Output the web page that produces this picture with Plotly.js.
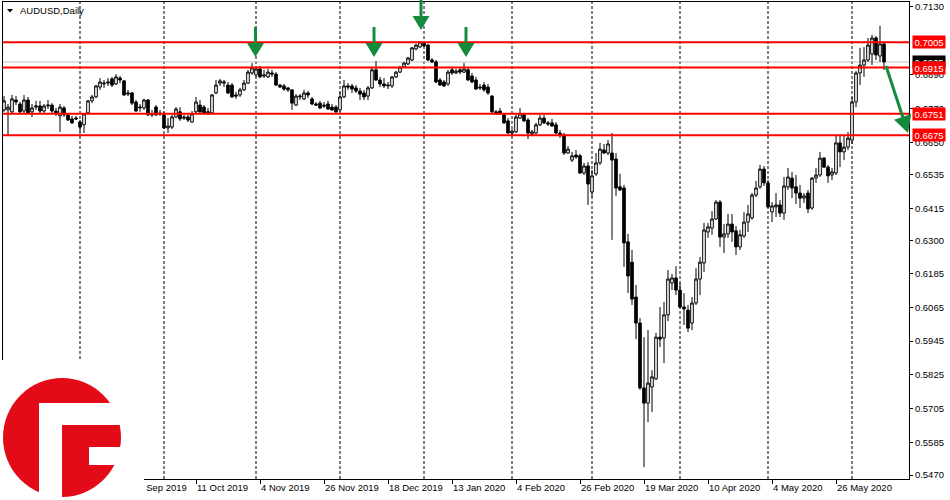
<!DOCTYPE html>
<html><head><meta charset="utf-8">
<script src="https://cdn.plot.ly/plotly-3.0.1.min.js"></script>
<style>html,body{margin:0;padding:0;background:#fff}#chart{width:950px;height:500px}</style>
</head><body><div id="chart"></div>
<script>
const symbolTitle = 'AUDUSD,Daily';
const firstDay = '2019-08-06';
const holidays = ['2019-12-25', '2020-01-01'];

const open = [
0.6765,0.6765,0.6758,0.6800,0.6786,0.6761,0.6800,0.6758,0.6775,0.6779,
0.6761,0.6779,0.6782,0.6761,0.6744,0.6772,0.6747,0.6733,0.6736,0.6722,
0.6712,0.6754,0.6797,0.6811,0.6846,0.6857,0.6860,0.6875,0.6857,0.6878,
0.6868,0.6821,0.6825,0.6793,0.6772,0.6772,0.6800,0.6747,0.6775,0.6754,
0.6747,0.6701,0.6704,0.6740,0.6758,0.6740,0.6740,0.6722,0.6758,0.6782,
0.6775,0.6754,0.6754,0.6825,0.6860,0.6860,0.6853,0.6853,0.6818,0.6818,
0.6836,0.6860,0.6896,0.6889,0.6910,0.6885,0.6882,0.6896,0.6892,0.6853,
0.6850,0.6843,0.6836,0.6782,0.6811,0.6804,0.6825,0.6804,0.6786,0.6789,
0.6782,0.6786,0.6775,0.6775,0.6765,0.6811,0.6850,0.6850,0.6843,0.6832,
0.6825,0.6814,0.6843,0.6907,0.6871,0.6857,0.6850,0.6850,0.6882,0.6899,
0.6917,0.6928,0.6942,0.6981,0.6988,0.7002,0.6995,0.6942,0.6935,0.6871,
0.6864,0.6857,0.6907,0.6896,0.6907,0.6899,0.6907,0.6885,0.6871,0.6846,
0.6853,0.6846,0.6814,0.6758,0.6761,0.6747,0.6726,0.6683,0.6687,0.6736,
0.6747,0.6729,0.6680,0.6683,0.6712,0.6736,0.6719,0.6719,0.6712,0.6683,
0.6676,0.6612,0.6587,0.6605,0.6602,0.6541,0.6566,0.6474,0.6538,0.6577,
0.6623,0.6612,0.6612,0.6591,0.6492,0.6488,0.6297,0.6225,0.6101,0.6009,
0.5779,0.5725,0.5782,0.5811,0.5959,0.5956,0.6038,0.6151,0.6169,0.6126,
0.6066,0.6055,0.6009,0.6080,0.6165,0.6222,0.6332,0.6346,0.6378,0.6438,
0.6314,0.6325,0.6360,0.6336,0.6279,0.6318,0.6367,0.6382,0.6463,0.6492,
0.6555,0.6506,0.6403,0.6421,0.6428,0.6399,0.6492,0.6523,0.6492,0.6470,
0.6452,0.6470,0.6417,0.6523,0.6534,0.6594,0.6562,0.6534,0.6541,0.6648,
0.6616,0.6633,0.6658,0.6793,0.6896,0.6924,0.6942,0.6963,0.7020,0.6956,
0.6999];

const high = [
0.6814,0.6786,0.6818,0.6814,0.6793,0.6818,0.6811,0.6786,0.6797,0.6797,
0.6786,0.6800,0.6789,0.6772,0.6786,0.6779,0.6754,0.6744,0.6744,0.6729,
0.6754,0.6800,0.6818,0.6853,0.6878,0.6871,0.6878,0.6882,0.6892,0.6885,
0.6871,0.6836,0.6829,0.6800,0.6786,0.6804,0.6804,0.6765,0.6782,0.6765,
0.6758,0.6736,0.6747,0.6775,0.6775,0.6747,0.6747,0.6761,0.6811,0.6800,
0.6782,0.6772,0.6821,0.6871,0.6875,0.6871,0.6864,0.6860,0.6829,0.6843,
0.6871,0.6907,0.6931,0.6917,0.6921,0.6907,0.6910,0.6907,0.6899,0.6857,
0.6857,0.6846,0.6839,0.6821,0.6821,0.6836,0.6832,0.6811,0.6793,0.6797,
0.6793,0.6797,0.6786,0.6782,0.6829,0.6871,0.6860,0.6857,0.6853,0.6843,
0.6836,0.6850,0.6914,0.6938,0.6882,0.6878,0.6864,0.6885,0.6903,0.6921,
0.6935,0.6953,0.6988,0.6999,0.7009,0.7006,0.6999,0.6949,0.6942,0.6878,
0.6871,0.6907,0.6914,0.6910,0.6914,0.6931,0.6914,0.6896,0.6882,0.6857,
0.6864,0.6857,0.6818,0.6765,0.6772,0.6754,0.6736,0.6697,0.6747,0.6772,
0.6754,0.6736,0.6694,0.6719,0.6747,0.6747,0.6726,0.6733,0.6722,0.6694,
0.6683,0.6637,0.6616,0.6623,0.6609,0.6577,0.6580,0.6552,0.6612,0.6648,
0.6644,0.6658,0.6683,0.6612,0.6538,0.6499,0.6325,0.6268,0.6144,0.6027,
0.5959,0.5984,0.5842,0.5974,0.6066,0.6084,0.6197,0.6183,0.6211,0.6151,
0.6115,0.6073,0.6101,0.6204,0.6243,0.6364,0.6364,0.6406,0.6445,0.6445,
0.6360,0.6396,0.6396,0.6353,0.6339,0.6403,0.6428,0.6470,0.6513,0.6570,
0.6566,0.6516,0.6438,0.6470,0.6445,0.6527,0.6559,0.6545,0.6534,0.6499,
0.6470,0.6481,0.6527,0.6559,0.6616,0.6598,0.6570,0.6559,0.6676,0.6676,
0.6676,0.6687,0.6811,0.6903,0.6985,0.6988,0.7020,0.7031,0.7027,0.7063,
0.7006];

const low = [
0.6758,0.6676,0.6754,0.6782,0.6751,0.6754,0.6751,0.6740,0.6765,0.6754,
0.6754,0.6768,0.6754,0.6744,0.6687,0.6740,0.6726,0.6715,0.6729,0.6687,
0.6683,0.6751,0.6789,0.6807,0.6836,0.6843,0.6850,0.6846,0.6853,0.6860,
0.6814,0.6814,0.6782,0.6758,0.6758,0.6765,0.6744,0.6740,0.6744,0.6744,
0.6697,0.6683,0.6697,0.6736,0.6726,0.6729,0.6722,0.6719,0.6754,0.6751,
0.6751,0.6747,0.6751,0.6821,0.6850,0.6846,0.6821,0.6807,0.6804,0.6811,
0.6832,0.6857,0.6889,0.6882,0.6878,0.6878,0.6878,0.6882,0.6850,0.6843,
0.6832,0.6829,0.6765,0.6779,0.6800,0.6800,0.6807,0.6782,0.6779,0.6768,
0.6772,0.6765,0.6761,0.6754,0.6758,0.6807,0.6836,0.6825,0.6825,0.6800,
0.6800,0.6800,0.6839,0.6868,0.6846,0.6843,0.6839,0.6843,0.6878,0.6896,
0.6914,0.6924,0.6938,0.6977,0.6985,0.6988,0.6938,0.6931,0.6860,0.6850,
0.6846,0.6850,0.6889,0.6892,0.6892,0.6896,0.6868,0.6860,0.6836,0.6836,
0.6829,0.6818,0.6754,0.6747,0.6747,0.6715,0.6680,0.6676,0.6683,0.6733,
0.6722,0.6662,0.6676,0.6680,0.6708,0.6715,0.6708,0.6704,0.6680,0.6665,
0.6605,0.6609,0.6580,0.6591,0.6538,0.6534,0.6428,0.6456,0.6531,0.6570,
0.6609,0.6605,0.6304,0.6460,0.6477,0.6208,0.6115,0.6073,0.5952,0.5772,
0.5498,0.5658,0.5693,0.5807,0.5924,0.5867,0.6016,0.6126,0.6108,0.6062,
0.6002,0.5977,0.5984,0.6073,0.6108,0.6190,0.6311,0.6322,0.6375,0.6279,
0.6257,0.6311,0.6297,0.6250,0.6268,0.6311,0.6332,0.6375,0.6456,0.6485,
0.6495,0.6417,0.6367,0.6385,0.6385,0.6375,0.6481,0.6452,0.6431,0.6417,
0.6435,0.6399,0.6410,0.6506,0.6527,0.6559,0.6506,0.6516,0.6534,0.6562,
0.6587,0.6623,0.6644,0.6775,0.6853,0.6882,0.6935,0.6924,0.6942,0.6935,
0.6907];

const close = [
0.6797,0.6775,0.6804,0.6793,0.6758,0.6800,0.6754,0.6772,0.6779,0.6761,
0.6779,0.6782,0.6761,0.6751,0.6775,0.6747,0.6729,0.6719,0.6733,0.6704,
0.6751,0.6797,0.6811,0.6850,0.6864,0.6860,0.6864,0.6853,0.6882,0.6871,
0.6818,0.6825,0.6789,0.6761,0.6775,0.6800,0.6747,0.6751,0.6747,0.6751,
0.6701,0.6708,0.6740,0.6768,0.6733,0.6736,0.6729,0.6751,0.6793,0.6758,
0.6754,0.6758,0.6818,0.6853,0.6868,0.6864,0.6825,0.6811,0.6814,0.6836,
0.6860,0.6899,0.6914,0.6910,0.6882,0.6889,0.6899,0.6892,0.6853,0.6846,
0.6839,0.6836,0.6789,0.6814,0.6814,0.6825,0.6818,0.6786,0.6782,0.6772,
0.6779,0.6768,0.6765,0.6758,0.6811,0.6850,0.6846,0.6839,0.6832,0.6821,
0.6811,0.6843,0.6907,0.6871,0.6857,0.6850,0.6853,0.6882,0.6899,0.6917,
0.6931,0.6949,0.6985,0.6995,0.7006,0.6992,0.6942,0.6935,0.6864,0.6853,
0.6850,0.6899,0.6896,0.6903,0.6899,0.6910,0.6871,0.6864,0.6839,0.6843,
0.6836,0.6825,0.6758,0.6754,0.6754,0.6719,0.6683,0.6690,0.6740,0.6751,
0.6726,0.6683,0.6687,0.6712,0.6736,0.6719,0.6715,0.6708,0.6683,0.6676,
0.6612,0.6626,0.6602,0.6598,0.6541,0.6566,0.6502,0.6531,0.6577,0.6626,
0.6612,0.6644,0.6587,0.6488,0.6481,0.6293,0.6176,0.6094,0.6009,0.5779,
0.5725,0.5796,0.5818,0.5959,0.5952,0.6038,0.6165,0.6169,0.6126,0.6066,
0.6059,0.5991,0.6080,0.6165,0.6225,0.6339,0.6350,0.6378,0.6438,0.6314,
0.6325,0.6360,0.6332,0.6279,0.6322,0.6367,0.6396,0.6463,0.6488,0.6555,
0.6506,0.6421,0.6424,0.6428,0.6399,0.6495,0.6527,0.6488,0.6470,0.6452,
0.6460,0.6414,0.6523,0.6534,0.6594,0.6562,0.6531,0.6545,0.6648,0.6616,
0.6633,0.6665,0.6793,0.6896,0.6924,0.6942,0.6995,0.7020,0.6960,0.6999,
0.6935];

const levels = [0.7005, 0.6915, 0.6751, 0.6675];
const bidPrice = 0.6935;
const yTicks = [0.7130, 0.6890, 0.6770, 0.6650, 0.6535, 0.6415, 0.6300, 0.6185, 0.6065, 0.5945, 0.5825, 0.5705, 0.5585, 0.5470];
const xTickDates = ['2019-09-19','2019-10-11','2019-11-04','2019-11-26','2019-12-18','2020-01-13','2020-02-04','2020-02-26','2020-03-19','2020-04-10','2020-05-04','2020-05-26'];
const xTickText = ['19 Sep 2019','11 Oct 2019','4 Nov 2019','26 Nov 2019','18 Dec 2019','13 Jan 2020','4 Feb 2020','26 Feb 2020','19 Mar 2020','10 Apr 2020','4 May 2020','26 May 2020'];
const monthStarts = ['2019-09-02','2019-10-01','2019-11-01','2019-12-02','2020-01-02','2020-02-03','2020-03-02','2020-04-01','2020-05-01','2020-06-01'];

// trading-day categories (weekdays, minus holidays)
const dates = [];
(function () {
  const d = new Date(firstDay + 'T00:00:00Z');
  while (dates.length < close.length) {
    const wd = d.getUTCDay();
    const s = d.toISOString().slice(0, 10);
    if (wd !== 0 && wd !== 6 && holidays.indexOf(s) < 0) dates.push(s);
    d.setUTCDate(d.getUTCDate() + 1);
  }
})();

// pixel -> paper helpers for decorations
const PL = 3, PR = 909, PT = 2, PB = 479;
const px = x => (x - PL) / (PR - PL);
const py = y => (PB - y) / (PB - PT);

const GREEN = '#138a3c';
const RED = '#ff0000';
const LOGO = '#e30b17';

const shapes = [];
monthStarts.forEach(m => shapes.push({type:'line', xref:'x', yref:'paper', x0:m, x1:m, y0:0, y1:1,
  line:{color:'#000', width:1, dash:'3px,2px'}, layer:'below'}));
shapes.push({type:'line', xref:'paper', yref:'y', x0:0, x1:1, y0:bidPrice, y1:bidPrice,
  line:{color:'#c0c0c0', width:1}, layer:'below'});
levels.forEach(v => shapes.push({type:'line', xref:'paper', yref:'y', x0:0, x1:1, y0:v, y1:v,
  line:{color:RED, width:2}, layer:'above'}));

function downArrow(x, yTop, yBase, yTip, half) {
  shapes.push({type:'line', xref:'paper', yref:'paper', x0:px(x), x1:px(x), y0:py(yTop), y1:py(yBase+2),
    line:{color:GREEN, width:3}, layer:'above'});
  shapes.push({type:'path', xref:'paper', yref:'paper',
    path:`M ${px(x-half)} ${py(yBase)} L ${px(x+half)} ${py(yBase)} L ${px(x)} ${py(yTip)} Z`,
    fillcolor:GREEN, line:{width:0}, layer:'above'});
}
downArrow(255.5, 27, 43, 57, 8.5);
downArrow(374, 27, 43, 57, 8.5);
downArrow(421, -2, 16, 30, 8.5);
downArrow(466, 27, 43, 57, 8.5);
(function () {
  const x0 = 886, y0 = 66, xt = 908, yt = 133;
  const dx = xt - x0, dy = yt - y0, L = Math.hypot(dx, dy);
  const ux = dx / L, uy = dy / L, nx = uy, ny = -ux;
  const bx = xt - 17 * ux, by = yt - 17 * uy;
  shapes.push({type:'line', xref:'paper', yref:'paper', x0:px(x0), y0:py(y0), x1:px(bx+ux*2), y1:py(by+uy*2),
    line:{color:GREEN, width:3}, layer:'above'});
  shapes.push({type:'path', xref:'paper', yref:'paper',
    path:`M ${px(bx+9*nx)} ${py(by+9*ny)} L ${px(bx-9*nx)} ${py(by-9*ny)} L ${px(xt)} ${py(yt)} Z`,
    fillcolor:GREEN, line:{width:0}, layer:'above'});
})();

shapes.push({type:'path', xref:'paper', yref:'paper',
  path:`M ${px(7)} ${py(9)} L ${px(13)} ${py(9)} L ${px(10)} ${py(12.5)} Z`,
  fillcolor:'#000', line:{width:0}, layer:'above'});

shapes.push({type:'rect', xref:'paper', yref:'paper', x0:px(-5), x1:px(144), y0:py(505), y1:py(360),
  fillcolor:'#fff', line:{width:0}, layer:'above'});
shapes.push({type:'circle', xref:'paper', yref:'paper', x0:px(3), x1:px(121), y0:py(497), y1:py(378),
  fillcolor:LOGO, line:{width:0}, layer:'above'});
[[39,62,403,500],[39,125,403,425],[89,125,447,465]].forEach(r => shapes.push({type:'rect', xref:'paper', yref:'paper',
  x0:px(r[0]), x1:px(r[1]), y0:py(r[3]), y1:py(r[2]), fillcolor:'#fff', line:{width:0}, layer:'above'}));

const annotations = [];
annotations.push({xref:'paper', yref:'paper', x:px(18), y:py(11), xanchor:'left', yanchor:'middle',
  text:symbolTitle, showarrow:false, font:{family:'Liberation Sans, Arial', size:9.5, color:'#000'}});
annotations.push({xref:'paper', yref:'y', x:px(912), y:bidPrice, xanchor:'left', yanchor:'middle',
  text:bidPrice.toFixed(4), showarrow:false, bgcolor:'#000', width:30, height:10, borderpad:1,
  font:{family:'Liberation Sans, Arial', size:9.5, color:'#fff'}});
levels.forEach(v => annotations.push({xref:'paper', yref:'y', x:px(912), y:v, xanchor:'left', yanchor:'middle',
  text:v.toFixed(4), showarrow:false, bgcolor:RED, width:30, height:10, borderpad:1,
  font:{family:'Liberation Sans, Arial', size:9.5, color:'#fff'}}));

const trace = {
  type:'candlestick', x:dates, open:open, high:high, low:low, close:close,
  increasing:{line:{color:'#000', width:1}, fillcolor:'#fff'},
  decreasing:{line:{color:'#000', width:1}, fillcolor:'#000'},
  whiskerwidth:0, hoverinfo:'skip', showlegend:false
};

const layout = {
  width:950, height:500,
  margin:{l:PL, r:950-PR, t:PT, b:500-PB, pad:0},
  paper_bgcolor:'#fff', plot_bgcolor:'#fff',
  font:{family:'Liberation Sans, Arial', size:9.5, color:'#000'},
  showlegend:false, hovermode:false,
  boxgap:0.35, boxgroupgap:0,
  xaxis:{type:'category', range:[-0.25, 226.25], showgrid:false, zeroline:false,
    showline:true, linecolor:'#000', linewidth:1, mirror:true,
    ticks:'outside', ticklen:4, tickcolor:'#000', tickwidth:1,
    tickvals:xTickDates, ticktext:xTickText, ticklabelposition:'outside right',
    tickfont:{family:'Liberation Sans, Arial', size:9.5, color:'#000'},
    rangeslider:{visible:false}, fixedrange:true, automargin:false},
  yaxis:{side:'right', range:[0.54558, 0.71477], showgrid:false, zeroline:false,
    showline:true, linecolor:'#000', linewidth:1, mirror:true,
    ticks:'outside', ticklen:3, tickcolor:'#000', tickwidth:1,
    tickvals:yTicks, tickformat:'.4f',
    tickfont:{family:'Liberation Sans, Arial', size:9.5, color:'#000'},
    fixedrange:true, automargin:false},
  shapes:shapes, annotations:annotations
};

Plotly.newPlot('chart', [trace], layout, {staticPlot:true, displayModeBar:false});
</script>
</body></html>
